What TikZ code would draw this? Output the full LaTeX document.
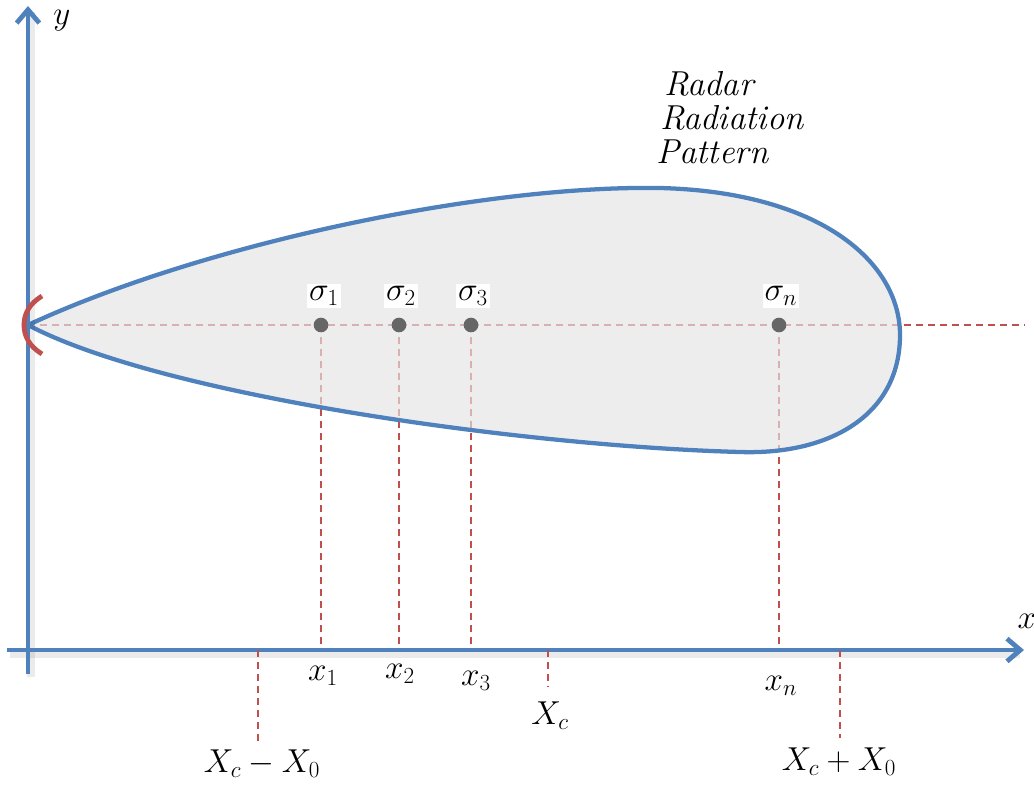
\documentclass[tikz,border=0pt]{standalone}
\usetikzlibrary{arrows.meta}
\definecolor{axblue}{RGB}{79,129,189}
\definecolor{dred}{RGB}{192,80,77}
\definecolor{blobfill}{RGB}{228,228,228}
\definecolor{dotgray}{RGB}{102,102,102}
\tikzset{
  axis/.style={draw=axblue, line width=3.6pt, -{Straight Barb[length=10pt,width=17pt]}},
  axshadow/.style={draw=black, opacity=0.08, line width=6pt},
  guide/.style={draw=dred, line width=1pt, dash pattern=on 5pt off 4pt},
  blob/.style={draw=axblue, line width=3.2pt, fill=blobfill, fill opacity=0.65},
  pt/.style={circle, fill=dotgray, inner sep=0pt, minimum size=11pt},
  sig/.style={fill=white, inner sep=1.5pt, font=\fontsize{24}{28}\selectfont},
  lab/.style={inner sep=1pt, font=\fontsize{24}{28}\selectfont},
  ttl/.style={anchor=west, font=\fontsize{26}{30}\selectfont\itshape, inner sep=0pt},
}
\begin{document}
\begin{tikzpicture}[x=0.75pt,y=-0.75pt]
\useasboundingbox (0,0) rectangle (1034,786);
% guides behind blob
\coordinate (tip) at (28,325);
\coordinate (xend) at (1025,325);
\node[pt, fill=none] (p1) at (321,325) {};
\node[pt, fill=none] (p2) at (399,325) {};
\node[pt, fill=none] (p3) at (471,325) {};
\node[pt, fill=none] (pn) at (779,325) {};
\coordinate (b1) at (321,645);
\coordinate (b2) at (399,645);
\coordinate (b3) at (471,645);
\coordinate (bn) at (779,645);
\draw[guide] (tip) -- (xend);
\draw[guide] (p1.center) -- (b1);
\draw[guide] (p2.center) -- (b2);
\draw[guide] (p3.center) -- (b3);
\draw[guide] (pn.center) -- (bn);
% blob
\path[blob] (28,325) .. controls (200,245) and (480,185) .. (660,188)
  .. controls (820,192) and (900,262) .. (900,335)
  .. controls (900,415) and (830,455) .. (740,452)
  .. controls (520,446) and (160,395) .. (28,325) -- cycle;
% dots
\node[pt] at (p1) {};
\node[pt] at (p2) {};
\node[pt] at (p3) {};
\node[pt] at (pn) {};
% sigma labels
\node[sig] (s1) at (324,296) {$\sigma_1$};
\node[sig] (s2) at (401,296) {$\sigma_2$};
\node[sig] (s3) at (473,296) {$\sigma_3$};
\node[sig] (sn) at (781,296) {$\sigma_n$};
% axes
\coordinate (o1) at (28,674);
\coordinate (ytip) at (28,6);
\coordinate (o2) at (7,650);
\coordinate (xtip) at (1024,650);
\draw[axshadow] (31,677) -- (31,12);
\draw[axshadow] (10,654) -- (1020,654);
\draw[axis] (o1) -- (ytip);
\draw[axis] (o2) -- (xtip);
\node[lab] (ylab) at (62,21) {$y$};
\node[lab, anchor=west] (xlab) at (1016,621) {$x$};
% red arc at tip
\draw[dred, line width=3.6pt] (42,296) .. controls (29,304) and (24,314) .. (24,325)
  .. controls (24,336) and (29,346) .. (42,354);
% lower guides
\coordinate (c1) at (258,650);
\coordinate (c2) at (548,650);
\coordinate (c3) at (840,650);
\coordinate (d1) at (258,742);
\coordinate (d2) at (548,687);
\coordinate (d3) at (840,738);
\draw[guide] (c1) -- (d1);
\draw[guide] (c2) -- (d2);
\draw[guide] (c3) -- (d3);
% axis labels
\node[lab] (x1) at (323,676) {$x_1$};
\node[lab] (x2) at (400,674) {$x_2$};
\node[lab] (x3) at (476,681) {$x_3$};
\node[lab] (xn) at (781,686) {$x_n$};
\node[lab] (Xc) at (550,716) {$X_c$};
\node[lab] (Xm) at (262,764) {$X_c-X_0$};
\node[lab] (Xp) at (839,762) {$X_c+X_0$};
% title
\node[ttl] (r1) at (664,84) {Radar};
\node[ttl] (r2) at (660,118) {Radiation};
\node[ttl] (r3) at (656,152) {Pattern};
\end{tikzpicture}
\end{document}
